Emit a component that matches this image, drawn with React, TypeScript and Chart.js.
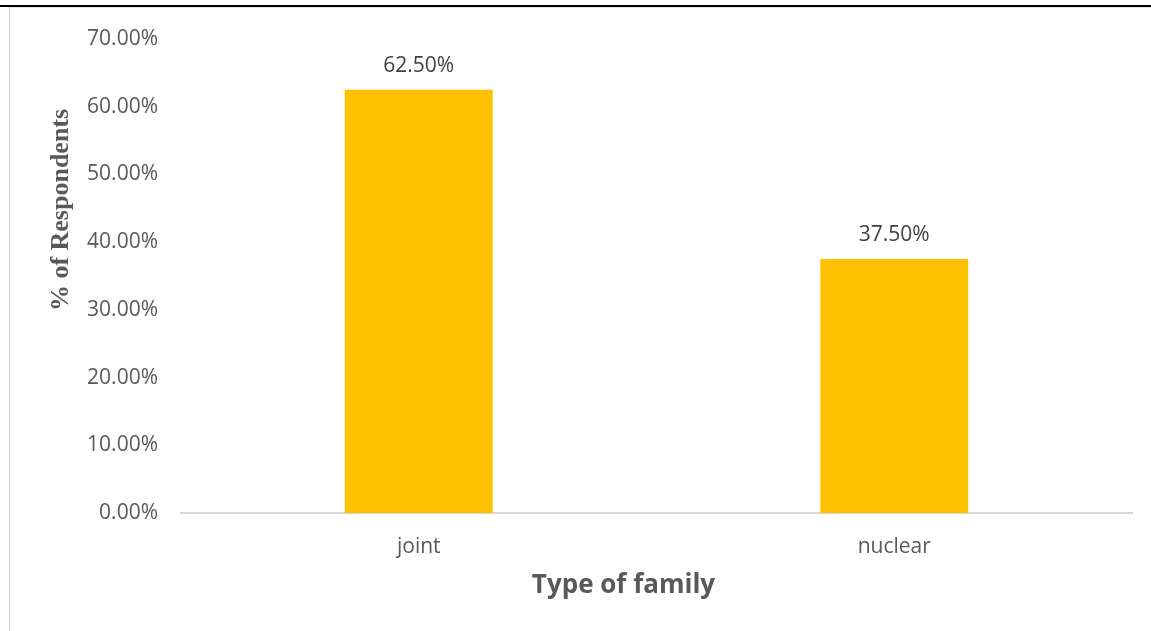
import React, { useEffect, useRef } from "react";
import { Chart, registerables } from "chart.js";

Chart.register(...registerables);

const categories = ["joint", "nuclear"];
const respondentShare = [0.625, 0.375];
const yTickValues = [0, 0.1, 0.2, 0.3, 0.4, 0.5, 0.6, 0.7];
const yAxisTitle = "% of Respondents";
const xAxisTitle = "Type of family";

const fmtPct = (v: number) => (v * 100).toFixed(2) + "%";

const decorPlugin = {
  id: "decor",
  afterDatasetsDraw(chart: any) {
    const ctx = chart.ctx;
    const meta = chart.getDatasetMeta(0);
    ctx.save();
    ctx.font = "21px 'Open Sans'";
    ctx.fillStyle = "#404040";
    ctx.textAlign = "center";
    ctx.textBaseline = "alphabetic";
    meta.data.forEach((el: any, i: number) => {
      ctx.fillText(fmtPct(respondentShare[i]), el.x, el.y - 18);
    });
    ctx.restore();

    const area = chart.chartArea;
    ctx.save();
    ctx.translate(area.left - 120, 202);
    ctx.rotate(-Math.PI / 2);
    ctx.font = "bold 26px 'Liberation Serif'";
    ctx.fillStyle = "#595959";
    ctx.textAlign = "center";
    ctx.textBaseline = "middle";
    ctx.fillText(yAxisTitle, 0, 0);
    ctx.restore();

    ctx.save();
    ctx.font = "bold 26px 'Open Sans'";
    ctx.fillStyle = "#595959";
    ctx.textAlign = "center";
    ctx.textBaseline = "alphabetic";
    ctx.fillText(xAxisTitle, (area.left + area.right) / 2 - 33, area.bottom + 80);
    ctx.restore();
  },
};

export default function App() {
  const ref = useRef<HTMLCanvasElement | null>(null);
  useEffect(() => {
    if (!ref.current) return;
    const chart = new Chart(ref.current, {
      type: "bar",
      data: {
        labels: categories,
        datasets: [
          {
            data: respondentShare,
            backgroundColor: "#FFC000",
            barPercentage: 0.311,
            categoryPercentage: 1,
          },
        ],
      },
      options: {
        animation: false,
        responsive: false,
        maintainAspectRatio: false,
        layout: { padding: { left: 0, right: 19, top: 31, bottom: 0 } },
        plugins: {
          legend: { display: false },
          tooltip: { enabled: false },
        },
        scales: {
          x: {
            grid: { display: false, drawTicks: false },
            border: { display: true, color: "#d9d9d9", width: 2 },
            ticks: {
              color: "#595959",
              font: { family: "'Open Sans'", size: 21 },
              padding: 21,
            },
            afterFit(scale: any) {
              scale.height = 118;
            },
          },
          y: {
            min: 0,
            max: 0.7,
            grid: { display: false, drawTicks: false },
            border: { display: false },
            afterBuildTicks(scale: any) {
              scale.ticks = yTickValues.map((v) => ({ value: v }));
            },
            ticks: {
              color: "#595959",
              font: { family: "'Open Sans'", size: 21 },
              padding: 23,
              callback: (v: any) => fmtPct(Number(v)),
            },
            afterFit(scale: any) {
              scale.width = 171;
              scale.paddingTop = 0;
              scale.paddingBottom = 0;
            },
          },
        },
      },
      plugins: [decorPlugin],
    });
    return () => chart.destroy();
  }, []);

  return (
    <div
      style={{
        position: "absolute",
        left: 0,
        top: 0,
        width: 1151,
        height: 631,
        background: "#fff",
        overflow: "hidden",
      }}
    >
      <div style={{ position: "absolute", left: 0, top: 5, width: 1151, height: 2, background: "#000" }} />
      <div style={{ position: "absolute", left: 10, top: 7, width: 1141, height: 1, background: "#e6e6e6" }} />
      <div style={{ position: "absolute", left: 9, top: 7, width: 1, height: 624, background: "#d0d0d0" }} />
      <canvas
        ref={ref}
        width={1141}
        height={623}
        style={{ position: "absolute", left: 10, top: 8, width: 1141, height: 623 }}
      />
    </div>
  );
}
